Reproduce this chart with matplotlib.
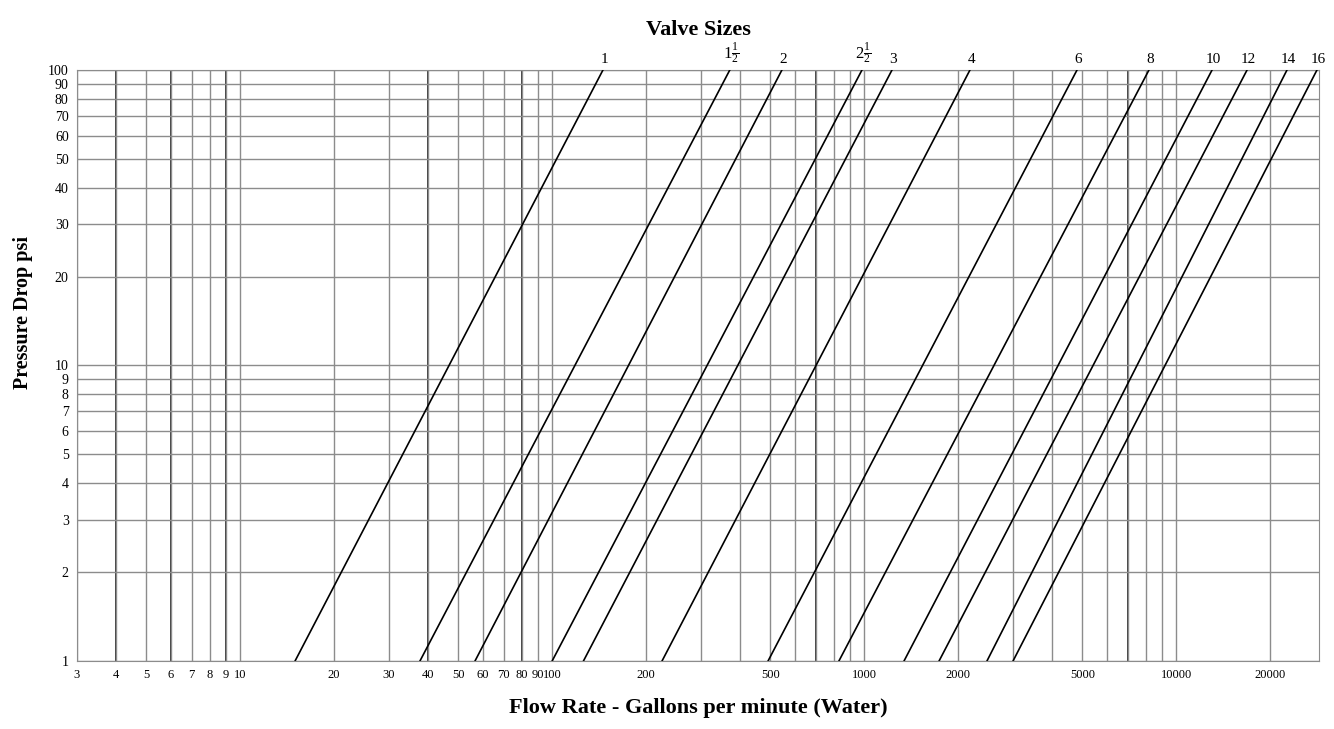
import matplotlib
matplotlib.use('Agg')
import matplotlib.pyplot as plt

plt.rcParams['font.family'] = ['Liberation Serif', 'DejaVu Serif']
plt.rcParams['mathtext.fontset'] = 'custom'
plt.rcParams['mathtext.rm'] = 'Liberation Serif'
plt.rcParams['mathtext.it'] = 'Liberation Serif'

# valve sizes and flow (gpm) read at 1 psi and 100 psi
valve_labels = ['1', r'$1\frac{1}{2}$', '2', r'$2\frac{1}{2}$', '3', '4', '6', '8', '10', '12', '14', '16']
flow_1psi = [15.0, 37.7, 56.6, 100, 126, 225, 492, 830, 1342, 1738, 2475, 3000]
flow_100psi = [145.5, 371, 545, 984, 1228, 2183, 4810, 8180, 13030, 16870, 22650, 28260]
drop_ends = [1, 100]

x_grid = [3, 4, 5, 6, 7, 8, 9, 10, 20, 30, 40, 50, 60, 70, 80, 90, 100,
          200, 300, 400, 500, 600, 700, 800, 900, 1000,
          2000, 3000, 4000, 5000, 6000, 7000, 8000, 9000, 10000, 20000]
x_labels = ['3', '4', '5', '6', '7', '8', '9', '10', '20', '30', '40', '50', '60', '70', '80', '90', '100',
            '200', '', '', '500', '', '', '', '', '1000',
            '2000', '', '', '5000', '', '', '', '', '10000', '20000']
y_grid = [1, 2, 3, 4, 5, 6, 7, 8, 9, 10, 20, 30, 40, 50, 60, 70, 80, 90, 100]
dark_x = [4, 6, 9, 40, 80, 700, 7000]

fig = plt.figure(figsize=(13.34, 7.29), dpi=100)
ax = fig.add_axes([0.0577, 0.0933, 0.9311, 0.8107])
ax.set_xscale('log')
ax.set_yscale('log')
ax.set_xlim(3, 28700)
ax.set_ylim(1, 100)

ax.set_xticks(x_grid)
ax.set_xticklabels(x_labels, fontsize=9)
ax.set_yticks(y_grid)
ax.set_yticklabels([str(v) for v in y_grid], fontsize=10)
ax.minorticks_off()
ax.tick_params(length=0, pad=6)
ax.grid(True, color='#8c8c8c', lw=1.0)
for xv in dark_x:
    ax.axvline(xv, color='#2a2a2a', lw=1.3, zorder=1)
for s in ax.spines.values():
    s.set_color('#8c8c8c')

for lab, a, b in zip(valve_labels, flow_1psi, flow_100psi):
    ax.plot([a, b], drop_ends, color='black', lw=1.2, zorder=3)
    fs = 12 if 'frac' in lab else 11
    ax.annotate(lab, (b, 100), xytext=(1, 3), textcoords='offset points',
                ha='center', va='bottom', fontsize=fs, annotation_clip=False)

ax.set_title('Valve Sizes', fontsize=16, fontweight='bold', pad=25)
ax.set_xlabel('Flow Rate - Gallons per minute (Water)', fontsize=16, fontweight='bold', labelpad=12)
ax.set_ylabel('Pressure Drop psi', fontsize=14.5, fontweight='bold')
ax.yaxis.set_label_coords(-0.035, 0.59)

fig.savefig('out.png', dpi=100)
